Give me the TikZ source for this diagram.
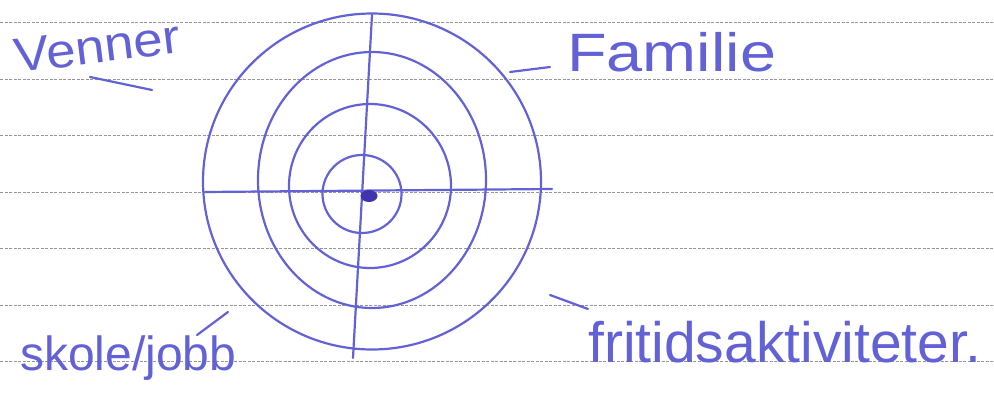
\documentclass[tikz,border=0pt]{standalone}
\usepackage{fontspec}
\setmainfont{Liberation Sans}
\usepackage{tikz}
\usetikzlibrary{positioning}
\definecolor{Pen}{RGB}{98,98,214}
\definecolor{PenDark}{RGB}{62,52,172}
\definecolor{Rule}{RGB}{150,150,150}
\tikzset{
  pen/.style={Pen,line width=2.2pt,line cap=round,line join=round},
  rule/.style={Rule,line width=0.7pt,dash pattern=on 3pt off 1.5pt},
  lbl/.style={text=Pen,inner sep=0pt,anchor=base west},
}
\begin{document}
\begin{tikzpicture}[x=1pt,y=-1pt]
  \useasboundingbox (0,0) rectangle (994,401);
  % ruled paper
  \foreach \y in {22.5,79,135.5,192,248.5,305,361.5}
    \draw[rule] (0,\y) -- (994,\y);
  % rings
  \draw[pen] (372,181.5) ellipse [x radius=169,y radius=168];
  \draw[pen] (372,180) ellipse [x radius=114,y radius=128];
  \draw[pen] (370,186) ellipse [x radius=81,y radius=82];
  \draw[pen] (362,194) ellipse [x radius=39.5,y radius=39];
  % cross
  \coordinate (top) at (372,15);
  \coordinate (bot) at (353,358);
  \coordinate (lft) at (205,192);
  \coordinate (rgt) at (552,189);
  \draw[pen] (top) -- (bot);
  \draw[pen] (lft) -- (rgt);
  \fill[PenDark] (369,196) ellipse [x radius=8.5,y radius=6];
  % labels
  \node[lbl,rotate=7,xscale=1.1,font=\fontsize{48}{48}\selectfont] (venner) at (16,73) {Venner};
  \node[lbl,xscale=1.2,font=\fontsize{54}{54}\selectfont] (familie) at (567,72) {Familie};
  \node[lbl,font=\fontsize{48}{48}\selectfont] (skole) at (20,370) {skole/jobb};
  \node[lbl,font=\fontsize{57}{57}\selectfont] (fritid) at (588,362) {fritidsaktiviteter.};
  % dashes
  \draw[pen] (90,77) -- (152,90);
  \draw[pen] (510,72) -- (550,67);
  \draw[pen] (197,335) -- (228,312);
  \draw[pen] (550,295) -- (588,309);
\end{tikzpicture}
\end{document}
